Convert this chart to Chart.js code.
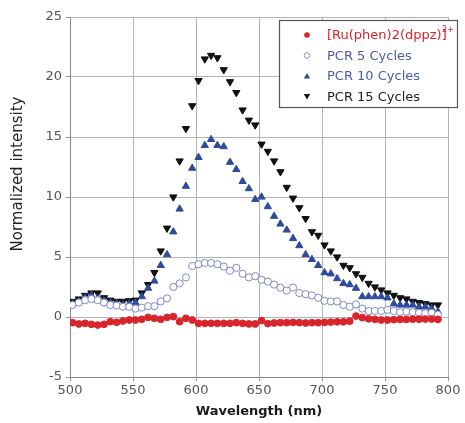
<!DOCTYPE html>
<html lang="en">
  <head>
    <meta charset="UTF-8" />
    <title>Normalized intensity vs wavelength</title>
    <script src="https://cdn.jsdelivr.net/npm/chart.js"></script>
    <style>
      body { margin: 0; background: #fff; }
      #wrap { width: 465px; height: 423px; }
    </style>
  </head>
  <body>
    <div id="wrap"><canvas id="specChart"></canvas></div>

    <script>
      const wavelengths = [
        502, 507, 512, 517, 522, 527, 532, 537, 542, 547, 552, 557, 562, 567, 572,
        577, 582, 587, 592, 597, 602, 607, 612, 617, 622, 627, 632, 637, 642, 647,
        652, 657, 662, 667, 672, 677, 682, 687, 692, 697, 702, 707, 712, 717, 722,
        727, 732, 737, 742, 747, 752, 757, 762, 767, 772, 777, 782, 787, 792
      ];

      const ruComplex = [
        -0.47, -0.58, -0.53, -0.61, -0.67, -0.61, -0.39, -0.44, -0.33, -0.25, -0.25, -0.19, -0.03, -0.11, -0.19,
        -0.03, 0.03, -0.39, -0.11, -0.25, -0.53, -0.53, -0.53, -0.53, -0.53, -0.53, -0.47, -0.53, -0.58, -0.58,
        -0.3, -0.55, -0.5, -0.47, -0.47, -0.45, -0.47, -0.5, -0.47, -0.47, -0.45, -0.42, -0.4, -0.4, -0.35,
        0.08, -0.05, -0.15, -0.2, -0.25, -0.25, -0.22, -0.2, -0.2, -0.18, -0.18, -0.17, -0.17, -0.2
      ];

      const pcr5 = [
        1.0, 1.2, 1.4, 1.5, 1.4, 1.2, 1.0, 0.95, 0.85, 0.85, 0.7, 0.78, 0.9, 0.9, 1.3,
        1.55, 2.5, 2.8, 3.3, 4.25, 4.4, 4.5, 4.5, 4.4, 4.2, 3.85, 4.1, 3.6, 3.3, 3.4,
        3.1, 2.95, 2.7, 2.45, 2.2, 2.45, 2.0, 1.9, 1.8, 1.6, 1.35, 1.3, 1.3, 1.0, 0.85,
        1.05, 0.7, 0.5, 0.5, 0.5, 0.6, 0.5, 0.4, 0.45, 0.4, 0.35, 0.3, 0.35, 0.2
      ];

      const pcr10 = [
        1.1, 1.3, 1.6, 1.8, 1.55, 1.35, 1.2, 1.1, 1.0, 1.1, 1.2, 1.7, 2.4, 3.0, 4.3,
        5.2, 7.1, 9.0, 10.9, 12.4, 13.3, 14.3, 14.8, 14.3, 14.2, 12.9, 12.3, 11.3, 10.7, 9.8,
        10.0, 9.2, 8.4, 7.75, 7.25, 6.55, 5.95, 5.2, 4.8, 4.3, 3.7, 3.6, 3.2, 2.8, 2.7,
        2.4, 1.7, 1.7, 1.7, 1.7, 1.6, 1.1, 1.0, 1.0, 1.0, 0.85, 0.85, 0.7, 0.45
      ];

      const pcr15 = [
        1.3, 1.5, 1.8, 2.0, 2.0, 1.6, 1.4, 1.3, 1.3, 1.35, 1.4, 2.0, 2.7, 3.7, 5.5,
        7.4, 10.0, 13.0, 15.7, 17.6, 19.7, 21.5, 21.8, 21.6, 20.6, 19.6, 18.7, 17.25, 16.4, 16.0,
        14.4, 13.8, 13.0, 12.1, 10.8, 9.9, 9.1, 8.2, 7.1, 6.8, 6.0, 5.5, 5.0, 4.3, 4.1,
        3.6, 3.3, 2.8, 2.5, 2.25, 2.0, 1.8, 1.6, 1.5, 1.3, 1.2, 1.1, 1.0, 1.0
      ];

      const yTicks = [-5, 0, 5, 10, 15, 20, 25];
      const xTicks = [500, 550, 600, 650, 700, 750, 800];

      function points(values) {
        return values.map((v, i) => ({ x: wavelengths[i], y: v }));
      }

      const tickFont = { family: "DejaVu Sans", size: 13 };

      // legend box inside the plot + y title placed a bit above centre, as in the original
      const boxLegend = {
        id: "boxLegend",
        afterDraw(chart) {
          const ctx = chart.ctx;
          const left = 279, top = 20, width = 178, height = 87;
          ctx.save();
          ctx.fillStyle = "#fff";
          ctx.fillRect(left, top, width, height);
          ctx.strokeStyle = "#555";
          ctx.lineWidth = 1.2;
          ctx.strokeRect(left + 0.5, top + 0.5, width, height);
          ctx.font = "13px 'DejaVu Sans'";
          ctx.textBaseline = "middle";
          chart.data.datasets.forEach((ds, i) => {
            const y = 35 + i * 20.5;
            const x = 307;
            ctx.fillStyle = ds.legendDot;
            ctx.strokeStyle = ds.legendDot;
            ctx.lineWidth = 1;
            ctx.beginPath();
            if (ds.pointStyle === "circle") {
              ctx.arc(x, y, 2.8, 0, Math.PI * 2);
              if (ds.backgroundColor === "#fff") ctx.stroke(); else ctx.fill();
            } else if (ds.pointRotation === 180) {
              ctx.moveTo(x - 3.2, y - 2.5); ctx.lineTo(x + 3.2, y - 2.5); ctx.lineTo(x, y + 3);
              ctx.closePath(); ctx.fill();
            } else {
              ctx.moveTo(x - 3.2, y + 2.5); ctx.lineTo(x + 3.2, y + 2.5); ctx.lineTo(x, y - 3);
              ctx.closePath(); ctx.fill();
            }
            ctx.fillStyle = ds.labelColor;
            ctx.fillText(ds.label, 327, y + 1);
          });
          ctx.font = "8px 'DejaVu Sans'";
          ctx.fillStyle = chart.data.datasets[0].labelColor;
          ctx.fillText("2+", 442, 30);

          ctx.translate(18, 174);
          ctx.rotate(-Math.PI / 2);
          ctx.font = "15px 'DejaVu Sans'";
          ctx.fillStyle = "#222";
          ctx.textAlign = "center";
          ctx.fillText("Normalized intensity", 0, 0);
          ctx.restore();
        }
      };

      new Chart(document.getElementById("specChart"), {
        type: "scatter",
        data: {
          datasets: [
            {
              label: "[Ru(phen)2(dppz)]",
              data: points(ruComplex),
              pointStyle: "circle",
              pointRadius: 3.4,
              backgroundColor: "#d8242a",
              borderColor: "#d8242a",
              borderWidth: 1,
              legendDot: "#d8242a",
              labelColor: "#d8242a"
            },
            {
              label: "PCR 5 Cycles",
              data: points(pcr5),
              pointStyle: "circle",
              pointRadius: 3.6,
              backgroundColor: "#fff",
              borderColor: "#8088c4",
              borderWidth: 1,
              legendDot: "#9096c8",
              labelColor: "#4d5aa6"
            },
            {
              label: "PCR 10 Cycles",
              data: points(pcr10),
              pointStyle: "triangle",
              pointRadius: 4.2,
              backgroundColor: "#2f4b9c",
              borderColor: "#2f4b9c",
              borderWidth: 1,
              legendDot: "#2f4b9c",
              labelColor: "#4d5aa6"
            },
            {
              label: "PCR 15 Cycles",
              data: points(pcr15),
              pointStyle: "triangle",
              pointRotation: 180,
              pointRadius: 4.2,
              backgroundColor: "#111",
              borderColor: "#111",
              borderWidth: 1,
              legendDot: "#111",
              labelColor: "#222"
            }
          ]
        },
        options: {
          responsive: true,
          maintainAspectRatio: false,
          animation: false,
          layout: { padding: { top: 17, right: 17, left: 0, bottom: 0 } },
          plugins: {
            legend: { display: false },
            tooltip: { enabled: false }
          },
          scales: {
            x: {
              type: "linear",
              min: 500,
              max: 800,
              afterBuildTicks: (scale) => { scale.ticks = xTicks.map((v) => ({ value: v })); },
              afterFit: (scale) => { scale.height = 46; },
              grid: { color: "#b4b4b4", tickLength: 4, tickColor: "#999" },
              border: { color: "#888", width: 1 },
              ticks: { color: "#555", font: tickFont, padding: 2, maxRotation: 0 },
              title: {
                display: true,
                text: "Wavelength (nm)",
                color: "#1a1a1a",
                font: { family: "DejaVu Sans", size: 13, weight: "600" },
                padding: { top: 3 }
              }
            },
            y: {
              min: -5,
              max: 25,
              afterBuildTicks: (scale) => { scale.ticks = yTicks.map((v) => ({ value: v })); },
              afterFit: (scale) => { scale.width = 70; },
              grid: { color: "#b4b4b4", tickLength: 4, tickColor: "#999" },
              border: { color: "#888", width: 1 },
              ticks: { color: "#555", font: tickFont, padding: 4 }
            }
          }
        },
        plugins: [boxLegend]
      });
    </script>
  </body>
</html>
